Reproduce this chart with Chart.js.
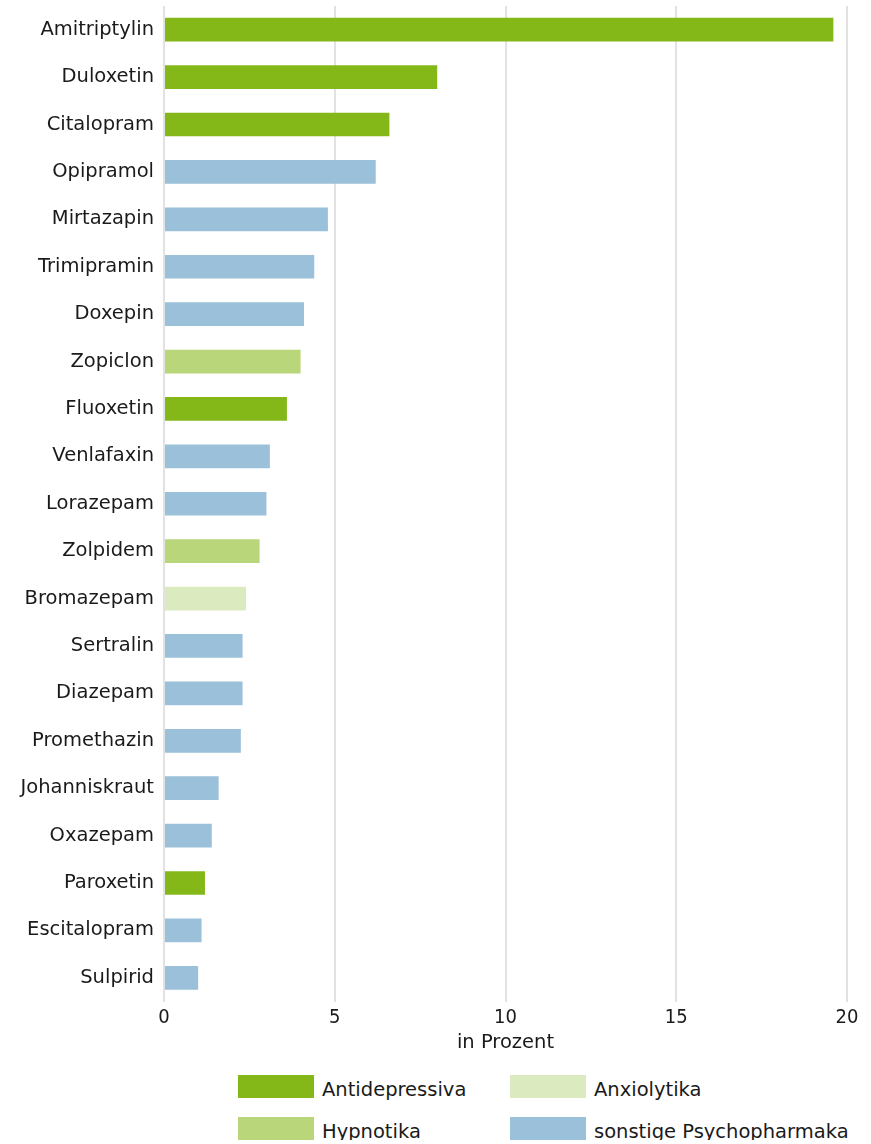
<!DOCTYPE html>
<html>
<head>
<meta charset="utf-8">
<script src="https://cdn.jsdelivr.net/npm/chart.js@4"></script>
<style>
  body { margin: 0; background: #fff; font-family: "DejaVu Sans", sans-serif; }
  #wrap { position: relative; width: 871px; height: 1053px; }
  #legend {
    display: grid;
    grid-template-columns: 272px 340px;
    row-gap: 19px;
    margin-left: 238px;
    margin-top: 22px;
    font-size: 19.5px;
    color: #1a1a1a;
  }
  .item { display: flex; align-items: flex-start; height: 23px; white-space: nowrap; }
  .box { width: 76px; height: 23px; margin-right: 8px; flex: none; }
  .txt { line-height: 23px; position: relative; top: 3px; }
</style>
</head>
<body>
<div id="wrap"><canvas id="chart"></canvas></div>
<div id="legend"></div>
<script>
const drugs = ["Amitriptylin", "Duloxetin", "Citalopram", "Opipramol", "Mirtazapin", "Trimipramin",
  "Doxepin", "Zopiclon", "Fluoxetin", "Venlafaxin", "Lorazepam", "Zolpidem", "Bromazepam",
  "Sertralin", "Diazepam", "Promethazin", "Johanniskraut", "Oxazepam", "Paroxetin",
  "Escitalopram", "Sulpirid"];
const shares = [19.6, 8.0, 6.6, 6.2, 4.8, 4.4, 4.1, 4.0, 3.6, 3.1, 3.0, 2.8, 2.4, 2.3, 2.3, 2.25,
  1.6, 1.4, 1.2, 1.1, 1.0];
// group of each drug: 0 Antidepressiva, 1 Anxiolytika, 2 Hypnotika, 3 sonstige
const groupOf = [0, 0, 0, 3, 3, 3, 3, 2, 0, 3, 3, 2, 1, 3, 3, 3, 3, 3, 0, 3, 3];
const groupNames = ["Antidepressiva", "Anxiolytika", "Hypnotika", "sonstige Psychopharmaka"];
const groupColors = ["#84b819", "#dbeabf", "#b9d67a", "#9ac1d9"];
const xTicks = [0, 5, 10, 15, 20];

const datasets = groupNames.map((name, g) => ({
  label: name,
  data: shares.map((v, i) => groupOf[i] === g ? v : null),
  backgroundColor: groupColors[g],
  barPercentage: 0.5,
  categoryPercentage: 1.0
}));

new Chart(document.getElementById("chart"), {
  type: "bar",
  data: { labels: drugs, datasets },
  options: {
    indexAxis: "y",
    responsive: true,
    maintainAspectRatio: false,
    animation: false,
    layout: { padding: { top: 6, right: 24, left: 0, bottom: 0 } },
    plugins: { legend: { display: false }, tooltip: { enabled: false } },
    scales: {
      x: {
        stacked: true,
        min: 0,
        max: 20,
        afterBuildTicks: axis => { axis.ticks = xTicks.map(v => ({ value: v })); },
        grid: { color: "#e2e2e2", lineWidth: 2, drawTicks: false },
        border: { display: false },
        ticks: { color: "#1a1a1a", font: { family: "DejaVu Sans Condensed", size: 20, lineHeight: 1 }, padding: 6 },
        title: { display: true, text: "in Prozent", color: "#1a1a1a", font: { family: "DejaVu Sans", size: 19.5, lineHeight: 1 }, padding: 0 }
      },
      y: {
        stacked: true,
        afterFit: scale => { scale.width = 164; scale.paddingTop = 0; scale.paddingBottom = 0; },
        grid: { display: false, drawTicks: false },
        border: { display: false },
        ticks: { color: "#1a1a1a", font: { family: "DejaVu Sans", size: 19.5 }, padding: 10 }
      }
    }
  }
});

const legend = document.getElementById("legend");
groupNames.forEach((name, g) => {
  const item = document.createElement("div");
  item.className = "item";
  item.innerHTML = `<span class="box" style="background:${groupColors[g]}"></span><span class="txt">${name}</span>`;
  legend.appendChild(item);
});
</script>
</body>
</html>
